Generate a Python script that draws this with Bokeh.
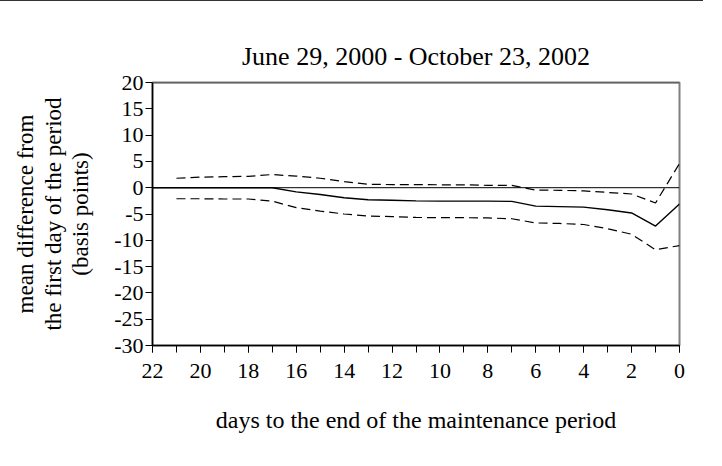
from bokeh.plotting import figure
from bokeh.models import Range1d, FixedTicker, Span, InlineStyleSheet
from bokeh.embed import file_html
from bokeh.resources import INLINE

# ---- data ----
days = [22, 21, 20, 19, 18, 17, 16, 15, 14, 13, 12, 11, 10, 9, 8, 7, 6, 5, 4, 3, 2, 1, 0]
mean_diff = [0, 0, 0, 0, 0, 0, -0.8, -1.3, -1.9, -2.3, -2.4, -2.5, -2.55, -2.55, -2.55,
             -2.6, -3.5, -3.6, -3.7, -4.2, -4.8, -7.3, -3.1]
band_days = [21, 20, 19, 18, 17, 16, 15, 14, 13, 12, 11, 10, 9, 8, 7, 6, 5, 4, 3, 2, 1, 0]
upper_band = [1.8, 2.0, 2.1, 2.15, 2.5, 2.2, 1.8, 1.15, 0.65, 0.6, 0.6, 0.55, 0.55, 0.45,
              0.45, -0.45, -0.5, -0.6, -0.9, -1.2, -2.9, 4.6]
lower_band = [-2.1, -2.1, -2.15, -2.15, -2.55, -3.8, -4.45, -5.0, -5.4, -5.5, -5.65, -5.7,
              -5.7, -5.75, -5.9, -6.7, -6.8, -7.0, -7.8, -8.85, -11.8, -11.0]
y_ticks = [20, 15, 10, 5, 0, -5, -10, -15, -20, -25, -30]
y_labels = ["20", "15", "10", "5", "0", "-5", "-10", "-15", "-20", "-25", "-30"]
x_ticks = [22, 20, 18, 16, 14, 12, 10, 8, 6, 4, 2, 0]
x_labels = ["22", "20", "18", "16", "14", "12", "10", "8", "6", "4", "2", "0"]

title_text = "June 29, 2000 - October 23, 2002"
x_title = "days to the end of the maintenance period"
y_title = "mean difference from\nthe first day of the period\n(basis points)"

FONT = "Liberation Serif"

frame_css = InlineStyleSheet(css=":host { border-left: 2px solid #333333; border-top: 2px solid #333333; margin-left: -3px; margin-top: -1px; }")

p = figure(width=706, height=450, output_backend="svg", toolbar_location=None,
           x_range=Range1d(22, 0), y_range=Range1d(-30, 20),
           min_border_left=153, min_border_right=26, min_border_top=81, min_border_bottom=106,
           background_fill_color="white", border_fill_color="white")
p.stylesheets = [frame_css]

p.title.text = title_text
p.title.text_font = FONT
p.title.text_font_size = "26px"
p.title.text_font_style = "normal"
p.title.text_color = "black"
p.title.align = "center"
p.title.offset = -12
p.title.standoff = 24

p.grid.visible = False
p.outline_line_color = "#808080"
p.outline_line_width = 2

# x axis
xa = p.xaxis[0]
xa.ticker = FixedTicker(ticks=x_ticks, minor_ticks=days)
xa.major_label_overrides = {t: s for t, s in zip(x_ticks, x_labels)}
xa.axis_line_color = "black"
xa.axis_line_width = 1.5
xa.major_tick_line_color = "black"
xa.minor_tick_line_color = "black"
xa.major_tick_out = 7
xa.major_tick_in = 0
xa.minor_tick_out = 7
xa.minor_tick_in = 0
xa.major_label_text_font = FONT
xa.major_label_text_font_size = "22px"
xa.major_label_text_color = "black"
xa.major_label_standoff = 11
xa.axis_label = x_title
xa.axis_label_text_font = FONT
xa.axis_label_text_font_size = "24px"
xa.axis_label_text_font_style = "normal"
xa.axis_label_text_color = "black"
xa.axis_label_standoff = 26

# y axis
ya = p.yaxis[0]
ya.ticker = FixedTicker(ticks=y_ticks, minor_ticks=[])
ya.major_label_overrides = {t: s for t, s in zip(y_ticks, y_labels)}
ya.axis_line_color = "black"
ya.axis_line_width = 1.5
ya.major_tick_line_color = "black"
ya.major_tick_out = 7
ya.major_tick_in = 0
ya.major_label_text_font = FONT
ya.major_label_text_font_size = "22px"
ya.major_label_text_color = "black"
ya.major_label_standoff = 2
ya.axis_label = y_title
ya.axis_label_text_font = FONT
ya.axis_label_text_font_size = "23px"
ya.axis_label_text_font_style = "normal"
ya.axis_label_text_color = "black"
ya.axis_label_text_line_height = 1.1
ya.axis_label_standoff = 18

# plot-area top edge (darker than the right edge) and zero reference line
p.add_layout(Span(location=20, dimension="width", line_color="#444444", line_width=1.5))
p.add_layout(Span(location=0, dimension="width", line_color="black", line_width=1))

# series
p.line(days, mean_diff, line_color="black", line_width=1.4)
p.line(band_days, upper_band, line_color="black", line_width=1.2, line_dash="9 5")
p.line(band_days, lower_band, line_color="black", line_width=1.2, line_dash="9 5")

open("out.html", "w").write(file_html(p, INLINE))
